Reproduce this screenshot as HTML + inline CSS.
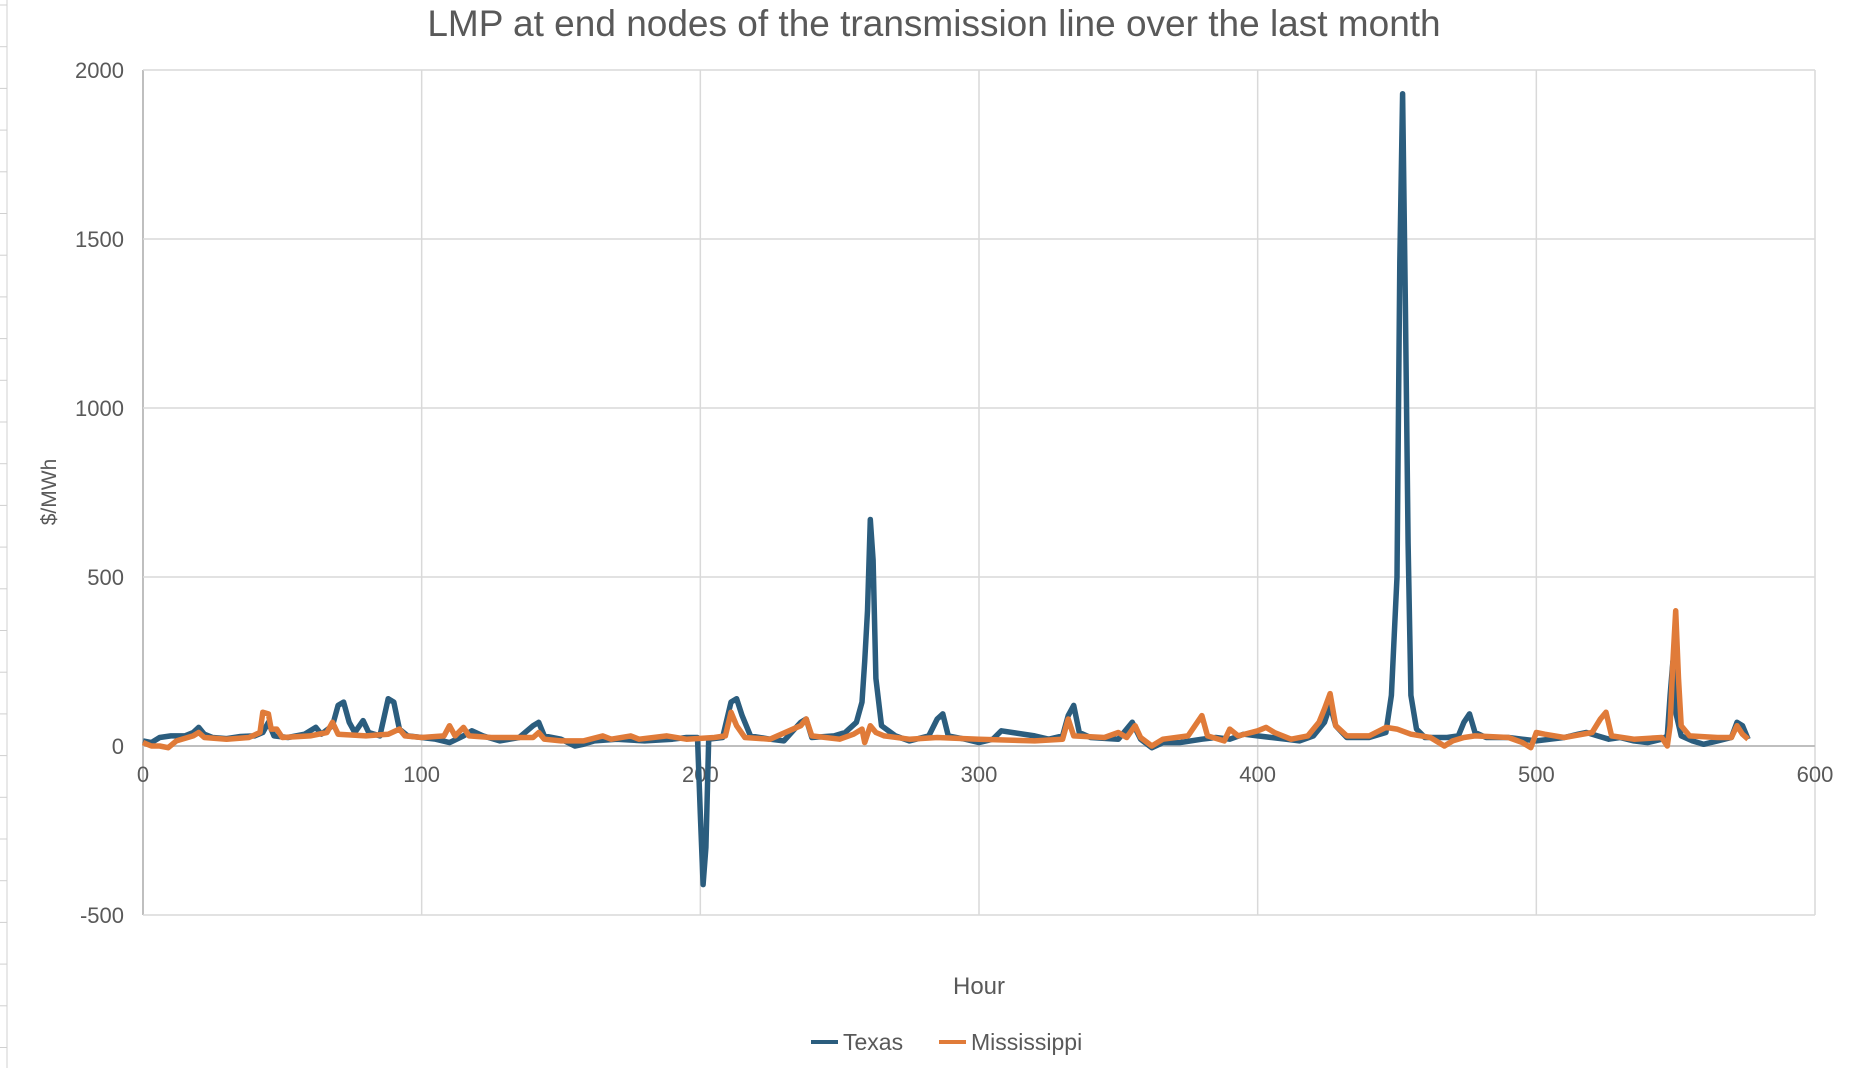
<!DOCTYPE html>
<html><head><meta charset="utf-8"><style>
body{margin:0;background:#fff;}
svg text{font-family:"Liberation Sans",sans-serif;}
</style></head><body>
<svg id="c" width="1856" height="1068" xmlns="http://www.w3.org/2000/svg">
<g id="strip"></g>
<text x="934" y="36" text-anchor="middle" font-size="37" fill="#595959">LMP at end nodes of the transmission line over the last month</text>
<g id="grid"></g><g id="ticks"></g><g id="series"></g>
<text transform="translate(56,492) rotate(-90)" text-anchor="middle" font-size="21" fill="#595959">$/MWh</text>
<text x="979" y="994" text-anchor="middle" font-size="24" fill="#595959">Hour</text>
<g>
<line x1="811" y1="1042" x2="838" y2="1042" stroke="#2b5d7e" stroke-width="4"/>
<text x="843" y="1050" font-size="23" fill="#595959">Texas</text>
<line x1="939" y1="1042" x2="966" y2="1042" stroke="#e07b39" stroke-width="4"/>
<text x="971" y="1050" font-size="23" fill="#595959">Mississippi</text>
</g>
</svg>
<script>
const xTicks=[0,100,200,300,400,500,600];
const yTicks=[-500,0,500,1000,1500,2000];
const texHours=[0,3,6,10,15,18,20,22,25,30,35,40,43,45,47,52,58,62,64,68,70,72,74,76,79,81,85,88,90,92,95,100,105,110,115,118,122,128,135,140,142,144,150,155,158,162,170,180,190,195,199,200,201,202,203,208,211,213,215,218,225,230,236,238,240,248,252,256,258,259,260,261,262,263,265,270,275,282,285,287,289,295,300,305,308,312,320,325,330,332,334,336,340,350,355,358,362,366,372,380,385,390,395,400,405,410,415,420,424,426,428,432,440,446,448,450,451,452,453,454,455,457,460,468,472,474,476,478,482,490,495,500,505,510,515,518,522,526,530,535,540,545,547,548,549,550,552,556,560,565,570,572,574,576];
const texVals=[15,10,25,30,30,40,55,35,25,22,28,30,40,70,30,25,35,55,35,60,120,130,70,40,75,40,30,140,130,50,30,25,20,10,30,45,30,15,25,60,70,30,20,0,5,15,20,15,20,25,25,-200,-410,-300,20,25,130,140,90,30,20,15,70,80,25,30,40,70,130,250,400,670,550,200,60,30,15,30,80,95,30,20,10,20,45,40,30,20,30,90,120,40,25,20,70,20,-5,10,10,20,25,20,35,30,25,20,15,30,70,120,60,25,25,40,150,500,1430,1930,1300,600,150,50,25,25,30,70,95,40,25,25,20,15,20,25,35,40,30,20,25,15,10,20,30,150,250,100,30,15,5,15,25,70,60,20];
const misHours=[0,3,6,9,12,18,20,22,30,38,42,43,45,46,48,50,60,66,68,70,80,88,92,94,100,108,110,112,115,117,125,140,142,144,150,158,165,168,175,178,188,195,205,209,211,213,216,225,236,238,240,250,255,258,259,261,263,266,275,285,300,320,330,332,334,345,350,353,356,358,362,366,375,380,382,388,390,393,400,403,406,412,418,422,424,426,428,432,440,446,450,455,462,467,470,474,478,490,495,498,500,503,510,520,523,525,527,535,545,547,548,549,550,551,552,555,565,570,572,574,576];
const misVals=[10,0,0,-5,15,30,40,25,20,25,40,100,95,50,50,25,30,40,70,35,30,35,50,30,25,30,60,30,55,30,25,25,40,20,15,15,30,20,30,20,30,20,25,30,100,60,25,20,60,80,30,20,35,50,10,60,40,30,20,25,20,15,20,80,30,25,40,25,60,25,0,20,30,90,30,15,50,30,45,55,40,20,30,70,110,155,60,30,30,55,50,35,25,0,15,25,30,25,10,-5,40,35,25,40,80,100,30,20,25,0,60,250,400,200,60,30,25,25,60,35,20];
const NS='http://www.w3.org/2000/svg';
const X0=143,X1=1815,Ytop=70,Ybot=915;
function sx(h){return X0+(h-0)/(600-0)*(X1-X0);}
function sy(v){return Ybot-(v+500)/(2000+500)*(Ybot-Ytop);}
function mk(tag,attrs,parent){const e=document.createElementNS(NS,tag);for(const k in attrs)e.setAttribute(k,attrs[k]);parent.appendChild(e);return e;}
const strip=document.getElementById('strip');
mk('line',{x1:7,y1:0,x2:7,y2:1068,stroke:'#d0d0d0','stroke-width':1},strip);
for(let y=5;y<1068;y+=41.7){const t=mk('line',{x1:0,y1:y,x2:7,y2:y,stroke:'#d0d0d0','stroke-width':1},strip);

}
const grid=document.getElementById('grid'),ticks=document.getElementById('ticks');
xTicks.forEach(t=>{const l=mk('line',{x1:sx(t),y1:Ytop,x2:sx(t),y2:Ybot,stroke:t===0?'#bfbfbf':'#d9d9d9','stroke-width':t===0?2:1.5},grid);


const tx=mk('text',{x:sx(t),y:sy(0)+36,'text-anchor':'middle','font-size':22,fill:'#595959'},ticks);tx.textContent=t;

});
yTicks.forEach(t=>{const l=mk('line',{x1:X0,y1:sy(t),x2:X1,y2:sy(t),stroke:t===0?'#bfbfbf':'#d9d9d9','stroke-width':t===0?2:1.5},grid);


const tx=mk('text',{x:124,y:sy(t)+8,'text-anchor':'end','font-size':22,fill:'#595959'},ticks);tx.textContent=t;

});
const ser=document.getElementById('series');
function draw(hs,vs,color,name){const p=mk('polyline',{points:hs.map((h,i)=>sx(h).toFixed(1)+','+sy(vs[i]).toFixed(1)).join(' '),fill:'none',stroke:color,'stroke-width':5.5,'stroke-linejoin':'round'},ser);

}
draw(texHours,texVals,'#2b5d7e','texas-line');
draw(misHours,misVals,'#e07b39','mississippi-line');
</script>
</body></html>
